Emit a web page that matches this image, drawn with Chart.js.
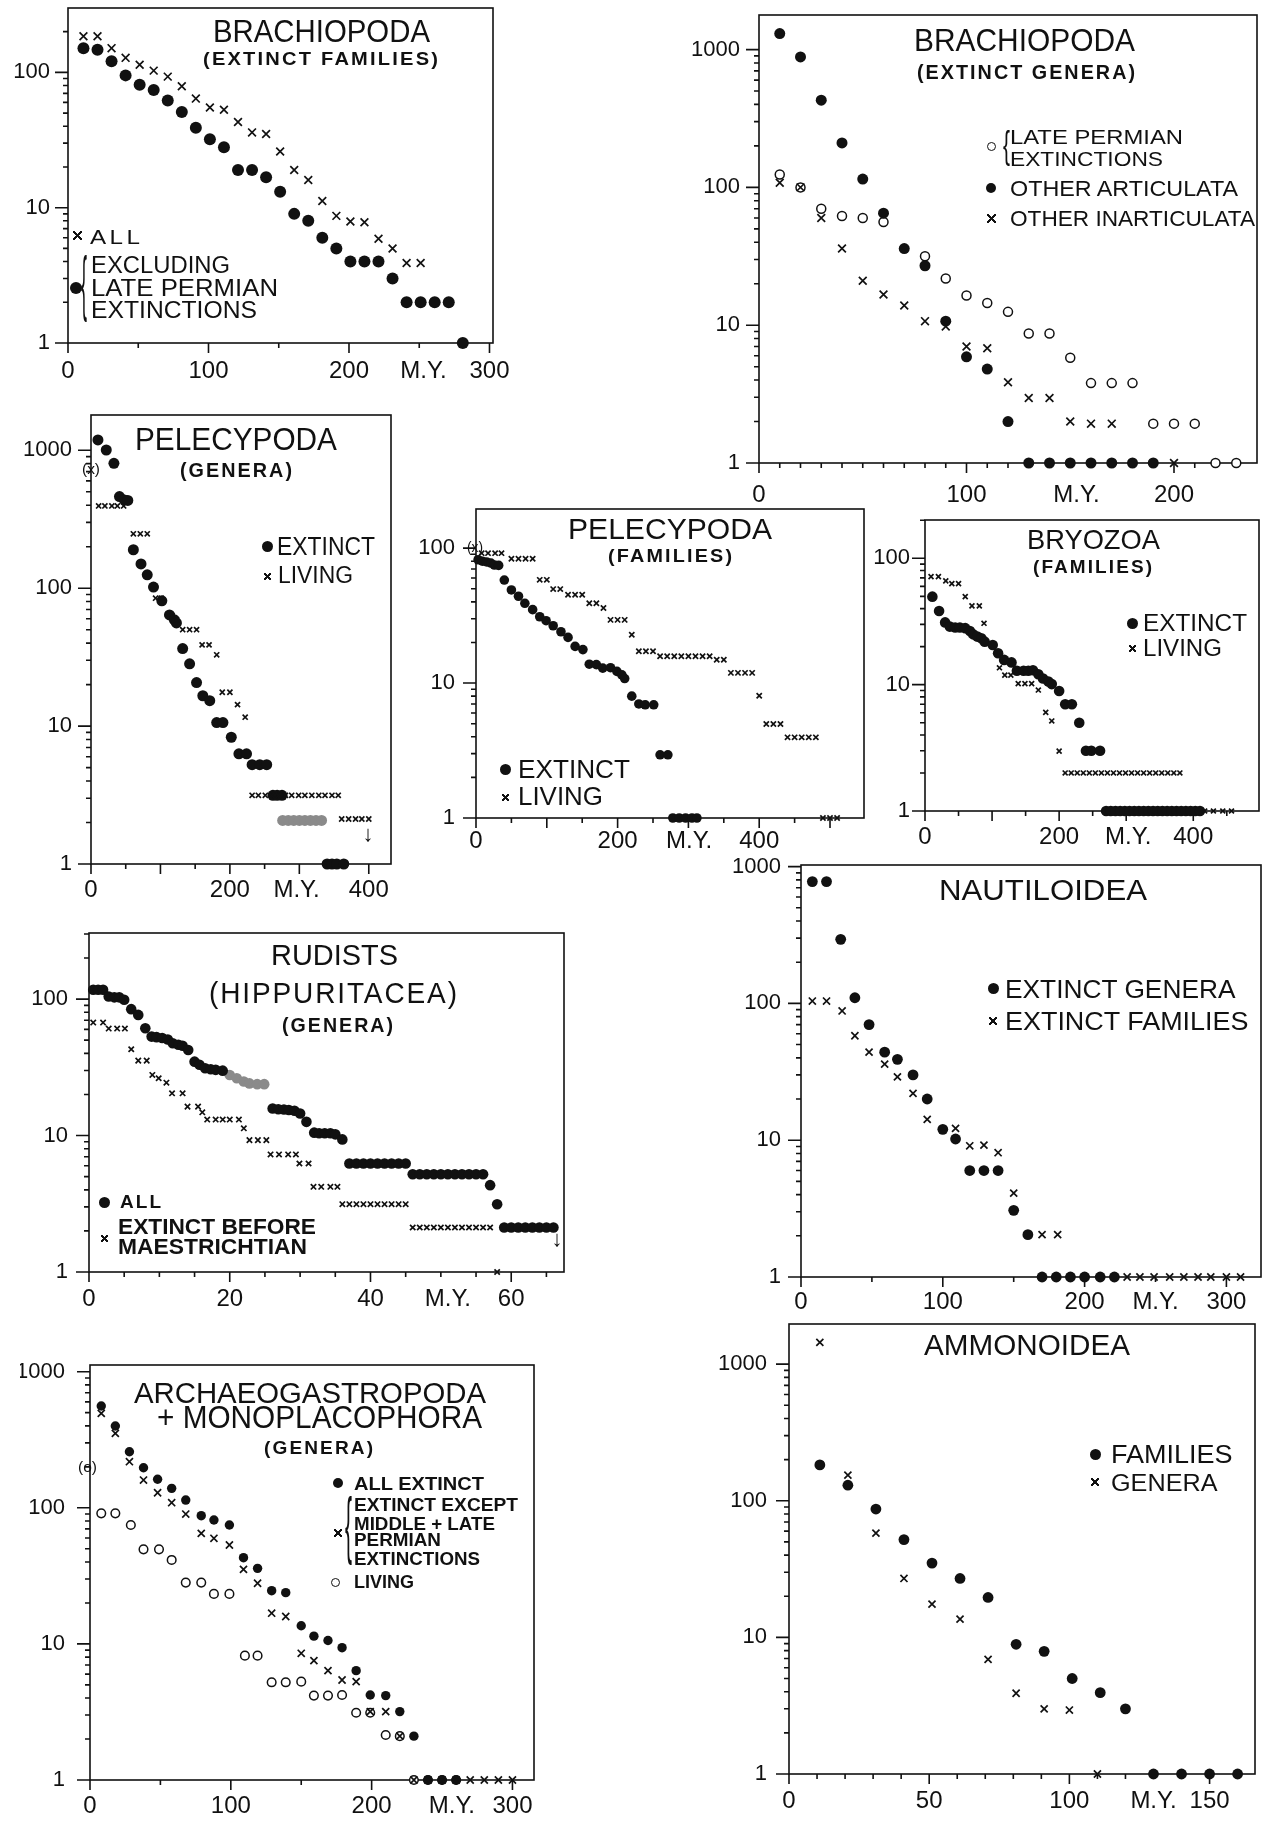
<!DOCTYPE html>
<html>
<head>
<meta charset="utf-8">
<script src="https://cdn.jsdelivr.net/npm/chart.js@4.4.0/dist/chart.umd.min.js"></script>
<style>
  body { margin: 0; background: #fff; width: 1267px; height: 1822px; position: relative; overflow: hidden;
         font-family: "Liberation Sans", Arial, sans-serif; color: #111; }
  canvas { position: absolute; }
  .t { position: absolute; white-space: nowrap; line-height: 1; transform-origin: 0 0; }
  .mk { position: absolute; box-sizing: border-box; }
  .mk.dot { border-radius: 50%; background: #111; }
  .mk.ring { border-radius: 50%; border: 1.5px solid #111; background: #fff; }
  .mk.cross {
    background:
      linear-gradient(45deg, transparent calc(50% - 0.9px), #111 calc(50% - 0.9px), #111 calc(50% + 0.9px), transparent calc(50% + 0.9px)),
      linear-gradient(-45deg, transparent calc(50% - 0.9px), #111 calc(50% - 0.9px), #111 calc(50% + 0.9px), transparent calc(50% + 0.9px));
  }
</style>
</head>
<body>
<script>
const INK = '#111';

// ---- Brachiopoda, extinct families (M.Y. / number of taxa)
const brachFamMY = [11, 21, 31, 41, 51, 61, 71, 81, 91, 101, 111, 121, 131, 141, 151, 161, 171, 181, 191, 201, 211, 221, 231, 241, 251, 261, 271, 281];
const brachFamAll = [185, 185, 151, 128, 114, 103, 93, 79, 64, 55, 53, 43, 36, 35, 26, 19, 16, 11.2, 8.7, 7.9, 7.8, 5.9, 5, 3.9, 3.9];
const brachFamExcl = [151, 147, 121, 95, 81, 74, 62, 51, 39, 32, 28, 19, 19, 16.8, 13.1, 9, 8, 6, 5, 4, 4, 4, 3, 2, 2, 2, 2, 1];

// ---- Brachiopoda, extinct genera
const brachGenMY = [10, 20, 30, 40, 50, 60, 70, 80, 90, 100, 110, 120, 130, 140, 150, 160, 170, 180, 190];
const brachGenArticulata = [1307, 885, 429, 210, 115, 65, 36, 27, 10.7, 5.9, 4.8, 2, 1, 1, 1, 1, 1, 1, 1];
const brachGenPermianMY = [10, 20, 30, 40, 50, 60, 80, 90, 100, 110, 120, 130, 140, 150, 160, 170, 180, 190, 200, 210, 220, 230];
const brachGenPermian = [124, 100, 70, 62, 60, 56, 31.6, 21.8, 16.4, 14.5, 12.5, 8.7, 8.7, 5.8, 3.8, 3.8, 3.8, 1.93, 1.93, 1.93, 1, 1];
const brachGenInartMY = [10, 20, 30, 40, 50, 60, 70, 80, 90, 100, 110, 120, 130, 140, 150, 160, 170, 200];
const brachGenInart = [108, 100, 60, 36, 21, 16.7, 13.9, 10.7, 9.8, 7, 6.8, 3.85, 2.96, 2.96, 2, 1.93, 1.93, 1];

// ---- Pelecypoda, genera
const pelGenExtMY = [10, 22, 33, 41, 48, 53, 61, 72, 81, 90, 102, 113, 120, 123, 132, 142, 152, 161, 171, 181, 190, 202, 213, 224, 232, 243, 253, 262, 268, 275, 340, 347, 354, 364];
const pelGenExt = [1188, 1005, 805, 462, 437, 433, 190, 150, 125, 102, 81, 64, 59, 56, 36.5, 28.3, 20.7, 16.6, 15.3, 10.6, 10.6, 8.3, 6.3, 6.3, 5.25, 5.25, 5.25, 3.15, 3.15, 3.15, 1, 1, 1, 1];
const pelGenFadedMY = [276, 284, 292, 300, 308, 316, 324, 332];
const pelGenFaded = [2.07, 2.07, 2.07, 2.07, 2.07, 2.07, 2.07, 2.07];
const pelGenLivMY = [11, 20, 30, 38, 47, 61, 71, 81, 93, 101, 117, 123, 132, 142, 152, 160, 170, 181, 189, 200, 211, 222, 232, 241, 251, 260, 270, 280, 289, 299, 308, 318, 328, 337, 347, 356, 361, 371, 381, 390, 400];
const pelGenLiv = [395, 395, 395, 395, 395, 248, 248, 248, 84.6, 84.6, 63, 59, 50, 50, 50, 38.8, 38.8, 32.9, 17.6, 17.6, 14.3, 11.6,
  3.15, 3.15, 3.15, 3.15, 3.15, 3.15, 3.15, 3.15, 3.15, 3.15, 3.15, 3.15, 3.15, 3.15, 2.12, 2.12, 2.12, 2.12, 2.12];

// ---- Pelecypoda, families
const pelFamExtMY = [3, 9, 15, 21, 26, 32, 40, 50, 60, 69, 80, 90, 99, 109, 120, 130, 140, 151, 160, 170, 179, 190, 199, 206, 210, 220, 230, 239, 251, 260, 271, 278, 287, 296, 305, 312];
const pelFamExt = [82, 80, 79, 77.5, 75, 74.5, 58, 49, 44, 39, 35, 31, 29, 26.6, 24, 21.8, 18.7, 17.7, 13.8, 13.7, 12.9, 13, 12.2, 11.5, 10.8, 8, 7, 6.9, 6.9, 2.94, 2.94, 1, 1, 1, 1, 1];
const pelFamLivMY = [8, 17, 27, 36, 50, 60, 70, 80, 90, 100, 109, 119, 130, 140, 150, 160, 170, 180, 190, 200, 210, 220, 230, 240, 250, 260, 270, 280, 290, 300, 310, 320, 330, 340, 350, 360, 370, 380, 390, 400, 410, 420, 430, 440, 450, 460, 470, 480, 490, 500, 510];
const pelFamLiv = [91.8, 91.8, 91.8, 91.8, 83.4, 83.4, 83.4, 83.4, 58.2, 58.2, 49.7, 49.7, 45.1, 45.1, 45.1, 39.1, 39.1, 36, 29.4, 29.4, 29.4, 22.8, 17.2, 17.2, 17.2,
  15.8, 15.8, 15.8, 15.8, 15.8, 15.8, 15.8, 15.8, 14.9, 14.9, 11.9, 11.9, 11.9, 11.9, 8.06, 4.97, 4.97, 4.97, 3.96, 3.96, 3.96, 3.96, 3.96, 1, 1, 1];

// ---- Bryozoa, families
const bryExtMY = [11, 21, 30, 37, 45, 52, 60, 67, 72, 78, 84, 89, 101, 109, 118, 129, 137, 147, 154, 161, 169, 176, 184, 189, 200, 209, 219, 230, 240, 248, 261,
  270, 277, 284, 291, 298, 305, 312, 319, 326, 333, 340, 347, 354, 361, 368, 375, 382, 389, 396, 403, 410];
const bryExt = [49.7, 38.3, 31.1, 28.8, 28.3, 28.3, 28, 26.6, 25, 24, 23.3, 21.9, 20.6, 17.7, 15.7, 15, 12.9, 12.9, 12.9, 13, 12.1, 11.2, 10.6, 10.1, 8.9, 7, 7, 5, 3, 3, 3,
  1, 1, 1, 1, 1, 1, 1, 1, 1, 1, 1, 1, 1, 1, 1, 1, 1, 1, 1, 1, 1];
const bryLivMY = [9, 20, 31, 40, 50, 60, 70, 81, 88, 111, 119, 128, 139, 149, 159, 169, 180, 189, 200,
  209, 218, 227, 236, 245, 254, 263, 272, 281, 290, 299, 308, 317, 326, 335, 344, 353, 362, 371, 380, 417, 430, 444, 457];
const bryLiv = [71.6, 71.6, 66.2, 63, 63, 49.7, 42, 42, 30.6, 13.6, 11.9, 11.9, 10.2, 10.2, 10.2, 9.07, 6.04, 5.16, 2.98,
  2, 2, 2, 2, 2, 2, 2, 2, 2, 2, 2, 2, 2, 2, 2, 2, 2, 2, 2, 2, 1, 1, 1, 1];

// ---- Rudists (Hippuritacea), genera
const rudAllMY = [0.6, 1.3, 2.0, 2.8, 3.6, 4.3, 5.0, 6.0, 7.0, 8.0, 8.9, 9.6, 10.4, 11.2, 11.9, 12.7, 13.3, 14.1, 15.0, 15.7, 16.5, 17.3, 18.0, 19.0,
  26.1, 26.9, 27.7, 28.4, 29.2, 30.0, 30.9, 32.0, 32.7, 33.5, 34.3, 35.0, 36.0,
  37, 38, 39, 40, 41, 42, 43, 44, 45, 46, 47, 48, 49, 50, 51, 52, 53, 54, 55, 56, 57, 58, 59, 60, 61, 62, 63, 64, 65, 66];
const rudAll = [117, 117, 117, 104.5, 103, 103, 98.8, 84.4, 76.6, 61.2, 53.1, 52.6, 51.8, 50.6, 47.5, 46.3, 45.5, 42.4, 34.8, 33, 31.1, 30.6, 30.3, 29.9,
  15.8, 15.6, 15.5, 15.4, 15.2, 14.5, 12.6, 10.5, 10.4, 10.4, 10.4, 10.2, 9.37,
  6.24, 6.24, 6.24, 6.24, 6.24, 6.24, 6.24, 6.24, 6.24, 5.21, 5.21, 5.21, 5.21, 5.21, 5.21, 5.21, 5.21, 5.21, 5.21, 5.21, 4.33, 3.14,
  2.12, 2.12, 2.12, 2.12, 2.12, 2.12, 2.12, 2.12];
const rudFadedMY = [20, 21, 22, 22.8, 23.9, 24.9];
const rudFaded = [27.8, 26.3, 24.9, 24.1, 23.8, 23.8];
const rudPreMY = [0.6, 2.0, 2.8, 4.0, 5.1, 6.0, 7.0, 8.2, 9.0, 9.9, 11.0, 11.8, 13.3, 14.0, 15.5, 16.1, 16.8, 18.0, 19.0, 20.0, 21.3, 22.0, 22.8, 24.0, 25.2,
  25.8, 27.0, 28.3, 29.4, 29.9, 31.2, 31.9, 33.0, 34.3, 35.3, 36, 37, 38, 39, 40, 41, 42, 43, 44, 45, 46, 47, 48, 49, 50, 51, 52, 53, 54, 55, 56, 57, 58];
const rudPre = [67.3, 67.3, 60.8, 60.8, 60.8, 42.9, 35.4, 35.4, 27.8, 26.3, 24.4, 20.4, 20.4, 16.3, 16.3, 14.8, 13.1, 13.1, 13.1, 13.1, 13.1, 11.3, 9.26, 9.26, 9.26,
  7.27, 7.27, 7.27, 7.27, 6.24, 6.24, 4.21, 4.21, 4.21, 4.21, 3.14, 3.14, 3.14, 3.14, 3.14, 3.14, 3.14, 3.14, 3.14, 3.14,
  2.12, 2.12, 2.12, 2.12, 2.12, 2.12, 2.12, 2.12, 2.12, 2.12, 2.12, 2.12, 1];

// ---- Nautiloidea
const nautGenMY = [8, 18, 28, 38, 48, 59, 68, 79, 89, 100, 109, 119, 129, 139, 150, 160, 170, 180, 190, 200, 211, 221];
const nautGen = [777, 777, 294, 110, 70, 44, 39, 30, 20, 12, 10.2, 6, 6, 6, 3.07, 2.04, 1, 1, 1, 1, 1, 1];
const nautFamMY = [8, 18, 29, 38, 48, 59, 68, 79, 89, 109, 119, 129, 139, 150, 170, 181, 230, 239, 249, 260, 270, 280, 289, 300, 310];
const nautFam = [104, 104, 88, 58, 44, 36, 29, 22, 14.2, 12.2, 9.1, 9.2, 8.1, 4.1, 2.04, 2.04, 1, 1, 1, 1, 1, 1, 1, 1, 1];

// ---- Archaeogastropoda + Monoplacophora, genera
const archAllMY = [8, 18, 28, 38, 48, 58, 68, 79, 88, 99, 109, 119, 129, 139, 150, 159, 169, 179, 189, 199, 210, 220, 230, 240, 250, 260];
const archAll = [560, 399, 258, 197, 162, 139, 114, 87.5, 81.4, 74.8, 43, 35.9, 24.6, 23.8, 13.6, 11.4, 10.6, 9.38, 6.36, 4.21, 4.17, 3.18, 2.1, 1, 1, 1];
const archExcMY = [8, 18, 28, 38, 48, 58, 68, 79, 88, 99, 109, 119, 129, 139, 150, 159, 169, 179, 189, 199, 210, 220, 230, 240, 250, 260, 270, 280, 290, 300];
const archExc = [494, 352, 218, 160, 129, 109, 90, 64.9, 59.7, 53.3, 35.3, 27.9, 16.8, 15.9, 8.53, 7.53, 6.36, 5.43, 5.28, 3.18, 3.18, 2.1, 1, 1, 1, 1, 1, 1, 1, 1];
const archLivMY = [8, 18, 29, 38, 49, 58, 68, 79, 88, 99, 110, 119, 129, 139, 150, 159, 169, 179, 189, 199, 210, 220, 230, 240, 250, 260];
const archLiv = [91, 91, 74.8, 49.5, 49.5, 41.4, 28.2, 28.2, 23.3, 23.3, 8.2, 8.2, 5.22, 5.22, 5.28, 4.17, 4.17, 4.21, 3.12, 3.12, 2.14, 2.1, 1, 1, 1, 1];

// ---- Ammonoidea
const ammFamMY = [11, 21, 31, 41, 51, 61, 71, 81, 91, 101, 111, 120, 130, 140, 150, 160];
const ammFam = [183, 130, 87, 52, 35, 27, 19.6, 8.9, 7.9, 5, 3.94, 3, 1, 1, 1, 1];
const ammGenMY = [11, 21, 31, 41, 51, 61, 71, 81, 91, 100, 110];
const ammGen = [1445, 154, 58, 27, 17.5, 13.6, 6.9, 3.9, 3, 2.94, 1];

// minor ticks of the log axes
const LOG_MINOR = [2, 3, 4, 5, 6, 7, 8, 9, 20, 30, 40, 50, 60, 70, 80, 90, 200, 300, 400, 500, 600, 700, 800, 900];
const Y3 = [1, 10, 100], Y4 = [1, 10, 100, 1000];

Chart.defaults.font.family = '"Liberation Sans", Arial, sans-serif';
Chart.defaults.color = INK;

// panel layout: box = plot frame in page pixels [left, top, right, bottom]
const panels = [
  { box: [68, 8, 493, 343], x: [0, 302.5], y: [1, 299], gapX: 14, gapY: 18, yTicks: Y3,
    xTicks: [0, 100, 200, 253, 300], xLabels: ['0', '100', '200', 'M.Y.', '300'],
    xMajor: [0, 100, 200, 300], xMinor: [50, 150, 250],
    series: [
      { x: brachFamMY, y: brachFamAll, kind: 'cross', r: 5.5 },
      { x: brachFamMY, y: brachFamExcl, kind: 'dot', r: 6 } ] },
  { box: [759, 15, 1257, 463], x: [0, 240], y: [1, 1782], gapX: 18, gapY: 19, yTicks: Y4,
    xTicks: [0, 100, 153, 200], xLabels: ['0', '100', 'M.Y.', '200'],
    xMajor: [0, 100, 200], xMinor: [10, 20, 30, 40, 50, 60, 70, 80, 90, 110, 120, 130, 140, 150, 160, 170, 180, 190, 210, 220, 230],
    series: [
      { x: brachGenInartMY, y: brachGenInart, kind: 'cross', r: 5.5 },
      { x: brachGenMY, y: brachGenArticulata, kind: 'dot', r: 5.5 },
      { x: brachGenPermianMY, y: brachGenPermian, kind: 'ring', r: 4.5 } ] },
  { box: [91, 415, 391, 864], x: [0, 432], y: [1, 1803], gapX: 12, gapY: 19, yTicks: Y4,
    xTicks: [0, 200, 296, 400], xLabels: ['0', '200', 'M.Y.', '400'],
    xMajor: [0, 100, 200, 300, 400], xMinor: [50, 150, 250, 350],
    series: [
      { x: pelGenLivMY, y: pelGenLiv, kind: 'cross', r: 3.6 },
      { x: pelGenExtMY, y: pelGenExt, kind: 'dot', r: 5.5 },
      { x: pelGenFadedMY, y: pelGenFaded, kind: 'faded', r: 5.5 } ] },
  { box: [476, 509, 864, 818], x: [0, 548], y: [1, 195], gapX: 9, gapY: 21, yTicks: Y3,
    xTicks: [0, 200, 301, 400], xLabels: ['0', '200', 'M.Y.', '400'],
    xMajor: [0, 100, 200, 300, 400, 500], xMinor: [50, 150, 250, 350, 450],
    series: [
      { x: pelFamLivMY, y: pelFamLiv, kind: 'cross', r: 3.7 },
      { x: pelFamExtMY, y: pelFamExt, kind: 'dot', r: 4.8 } ] },
  { box: [925, 520, 1259, 811], x: [0, 498], y: [1, 201], gapX: 12, gapY: 15, yTicks: Y3,
    xTicks: [0, 200, 303, 400], xLabels: ['0', '200', 'M.Y.', '400'],
    xMajor: [0, 100, 200, 300, 400], xMinor: [50, 150, 250, 350, 450],
    series: [
      { x: bryLivMY, y: bryLiv, kind: 'cross', r: 3.5 },
      { x: bryExtMY, y: bryExt, kind: 'dot', r: 5.3 } ] },
  { box: [89, 933, 564, 1272], x: [0, 67.5], y: [1, 305], gapX: 13, gapY: 21, yTicks: Y3,
    xTicks: [0, 20, 40, 51, 60], xLabels: ['0', '20', '40', 'M.Y.', '60'],
    xMajor: [0, 20, 40, 60], xMinor: [5, 10, 15, 25, 30, 35, 45, 50, 55, 65],
    series: [
      { x: rudPreMY, y: rudPre, kind: 'cross', r: 3.8 },
      { x: rudAllMY, y: rudAll, kind: 'dot', r: 5.3 },
      { x: rudFadedMY, y: rudFaded, kind: 'faded', r: 5.3 } ] },
  { box: [801, 865, 1261, 1277], x: [0, 324.4], y: [1, 1027], gapX: 11, gapY: 20, yTicks: Y4,
    xTicks: [0, 100, 200, 250, 300], xLabels: ['0', '100', '200', 'M.Y.', '300'],
    xMajor: [0, 100, 200, 300], xMinor: [50, 150, 250],
    series: [
      { x: nautFamMY, y: nautFam, kind: 'cross', r: 5 },
      { x: nautGenMY, y: nautGen, kind: 'dot', r: 5.4 } ] },
  { box: [90, 1365, 534, 1780], x: [0, 315.3], y: [1, 1120], gapX: 12, gapY: 25, yTicks: Y4,
    xTicks: [0, 100, 200, 257, 300], xLabels: ['0', '100', '200', 'M.Y.', '300'],
    xMajor: [0, 100, 200, 300], xMinor: [50, 150, 250],
    series: [
      { x: archExcMY, y: archExc, kind: 'cross', r: 5 },
      { x: archAllMY, y: archAll, kind: 'dot', r: 4.7 },
      { x: archLivMY, y: archLiv, kind: 'ring', r: 4.3 } ] },
  { box: [789, 1324, 1255, 1774], x: [0, 166.2], y: [1, 1968], gapX: 13, gapY: 22, yTicks: Y4,
    xTicks: [0, 50, 100, 130, 150], xLabels: ['0', '50', '100', 'M.Y.', '150'],
    xMajor: [0, 50, 100, 150], xMinor: [10, 20, 30, 40, 60, 70, 80, 90, 110, 120, 130, 140, 160],
    series: [
      { x: ammGenMY, y: ammGen, kind: 'cross', r: 5 },
      { x: ammFamMY, y: ammFam, kind: 'dot', r: 5.4 } ] }
];

function dataset(s) {
  const d = {
    data: s.y.map((v, i) => ({ x: s.x[i], y: v })),
    pointRadius: s.r, pointHoverRadius: s.r, clip: false
  };
  if (s.kind === 'cross') {
    return Object.assign(d, { pointStyle: 'crossRot', borderColor: INK, borderWidth: 1.7, backgroundColor: INK });
  }
  if (s.kind === 'ring') {
    return Object.assign(d, { pointStyle: 'circle', borderColor: INK, borderWidth: 1.5, backgroundColor: '#fff' });
  }
  const c = s.kind === 'faded' ? '#8a8a8a' : INK;
  return Object.assign(d, { pointStyle: 'circle', borderColor: c, borderWidth: 0, backgroundColor: c });
}

function makePanel(p) {
  const padL = 70, padR = 40, padT = 20, padB = 45;
  const [L, T, R, B] = p.box;
  const w = R - L + padL + padR, h = B - T + padT + padB;
  const cv = document.createElement('canvas');
  cv.width = w; cv.height = h;
  cv.style.left = (L - padL) + 'px';
  cv.style.top = (T - padT) + 'px';
  cv.style.width = w + 'px';
  cv.style.height = h + 'px';
  document.body.appendChild(cv);

  // frame and tick marks, drawn under the points
  const frame = {
    id: 'frame',
    beforeDatasetsDraw(chart) {
      const { ctx, chartArea: a, scales: { x, y } } = chart;
      ctx.save();
      ctx.strokeStyle = INK;
      ctx.lineWidth = 1.6;
      ctx.strokeRect(a.left, a.top, a.right - a.left, a.bottom - a.top);
      ctx.beginPath();
      p.yTicks.forEach(v => {
        const py = y.getPixelForValue(v);
        ctx.moveTo(a.left - 13, py); ctx.lineTo(a.left, py);
      });
      LOG_MINOR.filter(v => v < p.y[1]).forEach(v => {
        const py = y.getPixelForValue(v);
        ctx.moveTo(a.left - 5, py); ctx.lineTo(a.left, py);
      });
      p.xMajor.forEach(v => {
        const px = x.getPixelForValue(v);
        ctx.moveTo(px, a.bottom); ctx.lineTo(px, a.bottom + 10);
      });
      p.xMinor.forEach(v => {
        const px = x.getPixelForValue(v);
        ctx.moveTo(px, a.bottom); ctx.lineTo(px, a.bottom + 5);
      });
      ctx.stroke();
      ctx.restore();
    }
  };

  new Chart(cv, {
    type: 'scatter',
    data: { datasets: p.series.map(dataset) },
    options: {
      responsive: false,
      animation: false,
      devicePixelRatio: 1,
      layout: { padding: { left: 0, right: padR, top: padT, bottom: 0 }, autoPadding: false },
      plugins: { legend: { display: false }, tooltip: { enabled: false } },
      scales: {
        x: {
          type: 'linear', position: 'bottom', min: p.x[0], max: p.x[1], bounds: 'data',
          grid: { display: false, drawTicks: false }, border: { display: false },
          ticks: { padding: p.gapX, autoSkip: false, maxRotation: 0, color: INK,
                   font: { size: 24 }, callback: (v, i) => p.xLabels[i] },
          afterBuildTicks: s => { s.ticks = p.xTicks.map(v => ({ value: v })); },
          afterFit: s => { s.height = padB; s.paddingLeft = 0; s.paddingRight = 0; }
        },
        y: {
          type: 'logarithmic', position: 'left', min: p.y[0], max: p.y[1], bounds: 'data',
          grid: { display: false, drawTicks: false }, border: { display: false },
          ticks: { padding: p.gapY, autoSkip: false, color: INK,
                   font: { size: 22 }, callback: v => String(v) },
          afterBuildTicks: s => { s.ticks = p.yTicks.map(v => ({ value: v })); },
          afterFit: s => { s.width = padL; s.paddingTop = 0; s.paddingBottom = 0; }
        }
      }
    },
    plugins: [frame]
  });
}

panels.forEach(makePanel);

// ---- lettering: text fitted to a left/right span with a given cap height
function label(str, x0, x1, capTop, capH, bold, ls) {
  const size = capH / 0.716;
  const el = document.createElement('div');
  el.className = 't';
  el.textContent = str;
  el.style.fontSize = size + 'px';
  el.style.fontWeight = bold ? 'bold' : 'normal';
  if (ls) el.style.letterSpacing = ls + 'px';
  el.style.left = x0 + 'px';
  el.style.top = (capTop - 0.1305 * size) + 'px';
  document.body.appendChild(el);
  const w = el.getBoundingClientRect().width - (ls || 0);
  el.style.transform = 'scaleX(' + ((x1 - x0) / w) + ')';
}

function note(str, cx, top, size) {
  const el = document.createElement('div');
  el.className = 't';
  el.textContent = str;
  el.style.fontSize = size + 'px';
  el.style.top = top + 'px';
  document.body.appendChild(el);
  el.style.left = (cx - el.getBoundingClientRect().width / 2) + 'px';
}

function mark(kind, cx, cy, d) {
  const el = document.createElement('div');
  el.className = 'mk ' + kind;
  el.style.left = (cx - d / 2) + 'px';
  el.style.top = (cy - d / 2) + 'px';
  el.style.width = d + 'px';
  el.style.height = d + 'px';
  document.body.appendChild(el);
}

function brace(x0, x1, y0, y1) {
  const size = (y1 - y0) / 0.94;
  const el = document.createElement('div');
  el.className = 't';
  el.textContent = '{';
  el.style.fontSize = size + 'px';
  el.style.left = x0 + 'px';
  el.style.top = (y0 - 0.12 * size) + 'px';
  document.body.appendChild(el);
  el.style.transform = 'scaleX(' + ((x1 - x0) / el.getBoundingClientRect().width) + ')';
}

// Brachiopoda (extinct families)
label('BRACHIOPODA', 213, 430, 21, 22);
label('(EXTINCT FAMILIES)', 203, 438, 52, 13, true, 2);
label('ALL', 90, 140, 230, 15, false, 3);
label('EXCLUDING', 91, 230, 257, 16.5);
label('LATE PERMIAN', 91, 278, 280, 16.5);
label('EXTINCTIONS', 91, 257, 302.5, 16.5);
mark('cross', 77, 235, 9);
mark('dot', 76, 288, 12);
brace(81, 87, 255, 323);

// Brachiopoda (extinct genera)
label('BRACHIOPODA', 914, 1135, 28.5, 23);
label('(EXTINCT GENERA)', 917, 1135, 65.5, 14, true, 2);
label('LATE PERMIAN', 1010, 1183, 130, 14.5);
label('EXTINCTIONS', 1010, 1163, 152, 14.5);
label('OTHER ARTICULATA', 1010, 1238, 180.5, 15.5);
label('OTHER INARTICULATA', 1010, 1255, 210.5, 15.5);
mark('ring', 991, 146, 9);
mark('dot', 991, 188, 10);
mark('cross', 991, 218, 9);
brace(1003, 1010, 130, 167);

// Pelecypoda (genera)
label('PELECYPODA', 135, 337, 427, 23);
label('(GENERA)', 180, 292, 463.5, 14, true, 2);
label('EXTINCT', 277, 375, 537, 18);
label('LIVING', 278, 353, 567, 16.5);
mark('dot', 267, 546, 11);
mark('cross', 267, 576, 7);
label('(x)', 82, 100, 463, 11);
note('\u2193', 368, 823, 22);

// Pelecypoda (families)
label('PELECYPODA', 568, 772, 518.5, 20.5);
label('(FAMILIES)', 608, 732, 549.5, 13, true, 2);
label('EXTINCT', 518, 630, 760, 18);
label('LIVING', 518, 603, 787, 18);
mark('dot', 505, 769, 11);
mark('cross', 505, 797, 7);
label('(x)', 467, 483, 543, 10);

// Bryozoa (families)
label('BRYOZOA', 1027, 1160, 530, 20);
label('(FAMILIES)', 1033, 1152, 560.5, 13, true, 2);
label('EXTINCT', 1143, 1247, 615, 16.5);
label('LIVING', 1143, 1222, 640, 16.5);
mark('dot', 1132, 623, 11);
mark('cross', 1132, 648, 7);

// Rudists
label('RUDISTS', 271, 398, 943.5, 21.5);
label('(HIPPURITACEA)', 209, 457, 981.5, 21.5, false, 2);
label('(GENERA)', 282, 393, 1018.5, 14, true, 2);
label('ALL', 120, 161, 1195, 13.5, true, 2);
label('EXTINCT BEFORE', 118, 316, 1218.5, 16, true);
label('MAESTRICHTIAN', 118, 307, 1238.5, 16, true);
mark('dot', 104, 1202, 11);
mark('cross', 104, 1238, 7);
note('\u2193', 557, 1228, 22);

// Nautiloidea
label('NAUTILOIDEA', 939, 1147, 878.5, 21.5);
label('EXTINCT GENERA', 1004.5, 1235, 980, 18);
label('EXTINCT FAMILIES', 1004.5, 1248, 1012, 18);
mark('dot', 993, 988, 11);
mark('cross', 993, 1021, 8);

// Archaeogastropoda + Monoplacophora
label('ARCHAEOGASTROPODA', 134, 486, 1382, 21.5);
label('+ MONOPLACOPHORA', 157, 482, 1407, 22);
label('(GENERA)', 264, 373, 1441.5, 13, true, 2);
label('ALL EXTINCT', 354, 484, 1477, 13.5, true);
label('EXTINCT EXCEPT', 354, 518, 1498.5, 13.5, true);
label('MIDDLE + LATE', 354, 495, 1517, 13.5, true);
label('PERMIAN', 354, 441, 1533.5, 13.5, true);
label('EXTINCTIONS', 354, 480, 1552, 13.5, true);
label('LIVING', 354, 414, 1575, 13.5, true);
mark('dot', 337.5, 1483, 10);
mark('cross', 337.5, 1533, 8);
mark('ring', 335.7, 1582, 9);
brace(345, 352, 1497, 1567);
label('(o)', 78, 97, 1461, 11);

// Ammonoidea
label('AMMONOIDEA', 924, 1130, 1335, 20.5);
label('FAMILIES', 1110.5, 1232, 1445, 18);
label('GENERA', 1110.5, 1217, 1475, 17);
mark('dot', 1095, 1454, 11);
mark('cross', 1095, 1482, 8);
</script>
</body>
</html>
